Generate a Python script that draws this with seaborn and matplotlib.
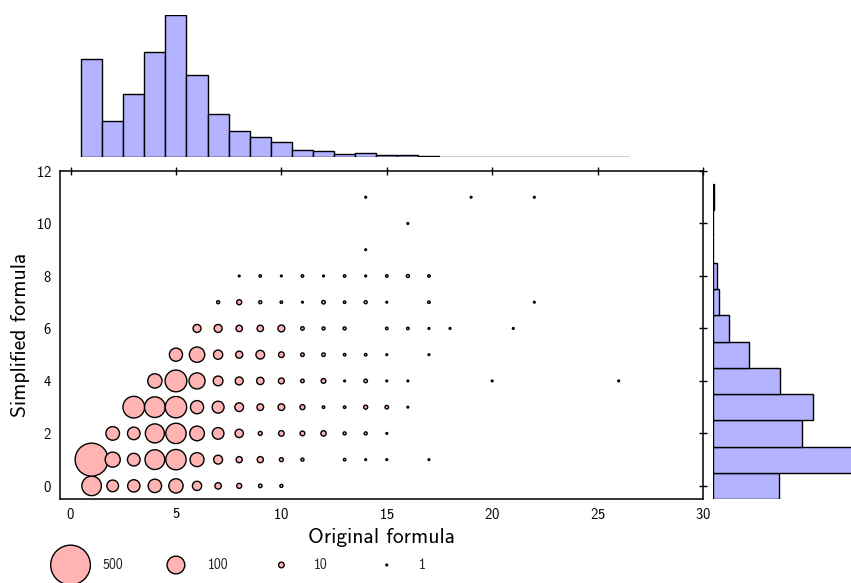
import numpy as np
import pandas as pd
import matplotlib
matplotlib.use("Agg")
import matplotlib.pyplot as plt
import seaborn as sns

# ---------------- data ----------------
# bubble chart: (original formula size, simplified formula size, count)
orig = [1, 2, 3, 4, 5, 6, 7, 8, 9, 10,
        1, 2, 3, 4, 5, 6, 7, 8, 9, 10, 11, 13, 14, 15, 17,
        2, 3, 4, 5, 6, 7, 8, 9, 10, 11, 12, 13, 14, 15,
        3, 4, 5, 6, 7, 8, 9, 10, 11, 12, 13, 14, 15, 16,
        4, 5, 6, 7, 8, 9, 10, 11, 12, 13, 14, 15, 16, 20, 26,
        5, 6, 7, 8, 9, 10, 11, 12, 13, 14, 15, 17,
        6, 7, 8, 9, 10, 11, 12, 13, 15, 16, 17, 18, 21,
        7, 8, 9, 10, 11, 12, 13, 14, 15, 17, 22,
        8, 9, 10, 11, 12, 13, 14, 15, 16, 17,
        14,
        16,
        14, 19, 22]
simp = [0] * 10 + [1] * 15 + [2] * 14 + [3] * 14 + [4] * 15 + [5] * 12 + \
       [6] * 13 + [7] * 11 + [8] * 10 + [9] * 1 + [10] * 1 + [11] * 3
count = [121, 43, 48, 57, 65, 27, 13, 8, 4, 3,
         345, 72, 51, 123, 131, 62, 25, 12, 12, 5, 3, 2, 1, 1, 1,
         59, 50, 115, 131, 68, 43, 22, 5, 10, 7, 9, 3, 3, 1,
         149, 135, 145, 55, 45, 24, 14, 14, 8, 2, 2, 5, 4, 1,
         65, 150, 82, 30, 20, 17, 11, 4, 7, 1, 4, 1, 1, 1, 1,
         55, 75, 27, 16, 24, 10, 4, 4, 2, 2, 1, 1,
         20, 20, 13, 13, 15, 4, 3, 3, 2, 2, 1, 1, 1,
         3, 8, 3, 2, 1, 4, 2, 3, 1, 2, 1,
         1, 2, 1, 2, 1, 2, 1, 2, 3, 2,
         1,
         1,
         1, 1, 1]

# marginal histograms
orig_bins = list(range(1, 27))
orig_hist = [466, 173, 298, 499, 677, 389, 206, 125, 96, 72, 35, 30, 16,
             21, 11, 8, 6, 1, 1, 1, 1, 2, 0, 0, 0, 1]
simp_bins = list(range(0, 12))
simp_hist = [385, 884, 522, 584, 393, 211, 92, 37, 22, 2, 1, 3]

legend_counts = [500, 100, 10, 1]
legend_labels = ["500", "100", "10", "1"]

x_ticks = [0, 5, 10, 15, 20, 25, 30]
y_ticks = [0, 2, 4, 6, 8, 10, 12]

bubbles = pd.DataFrame({"orig": orig, "simp": simp, "count": count})
top_df = pd.DataFrame({"orig": orig_bins, "n": orig_hist})
right_df = pd.DataFrame({"simp": simp_bins, "n": simp_hist})
leg_df = pd.DataFrame({"x": [5 * i for i in range(len(legend_counts))],
                       "y": [0] * len(legend_counts),
                       "count": legend_counts})

# ---------------- style ----------------
sns.set_theme(style="white")
plt.rcParams["font.family"] = ["cmss10", "DejaVu Sans"]
plt.rcParams["axes.unicode_minus"] = False
plt.rcParams["axes.formatter.use_mathtext"] = True

W, H = 851, 583
fig = plt.figure(figsize=(W / 100, H / 100), dpi=100)


def box(l, t, r, b):
    return [l / W, 1 - b / H, (r - l) / W, (b - t) / H]


ax = fig.add_axes(box(60, 171, 703, 499))
ax_top = fig.add_axes(box(60, 15, 703, 157))
ax_right = fig.add_axes(box(713, 171, 864, 499))
ax_leg = fig.add_axes(box(60, 547, 703, 583))

bubble_fill = "#ffb3b3"
bar_fill = "#b3b3ff"
S500 = 817.0  # marker area (pt^2) for a count of 500
size_kw = dict(sizes=(0, S500 * 2), size_norm=(0, 1000))

sns.scatterplot(data=bubbles, x="orig", y="simp", size="count", ax=ax,
                color=bubble_fill, edgecolor="black", linewidth=1.0,
                legend=False, zorder=3, **size_kw)

ax.set_xlim(-0.5, 30)
ax.set_ylim(-0.5, 12)
ax.set_xticks(x_ticks)
ax.set_yticks(y_ticks)
ax.tick_params(direction="inout", length=6, width=1, top=True, right=True,
               labelsize=10.5, colors="black", pad=3)
for sp in ax.spines.values():
    sp.set_visible(True)
    sp.set_color("black")
    sp.set_linewidth(1.1)
ax.set_xlabel("Original formula", fontsize=15.5, labelpad=4, color="black")
ax.set_ylabel("Simplified formula", fontsize=15.5, labelpad=4, color="black")

# top marginal histogram
sns.histplot(data=top_df, x="orig", weights="n",
             bins=[b - 0.5 for b in range(1, 28)],
             ax=ax_top, color=bar_fill, edgecolor="black", linewidth=1.0,
             alpha=1.0)
ax_top.set_xlim(-0.5, 30)
ax_top.margins(y=0)
ax_top.set_ylim(bottom=0)
ax_top.set_axis_off()

# right marginal histogram
sns.histplot(data=right_df, y="simp", weights="n",
             bins=[b - 0.5 for b in range(0, 13)],
             ax=ax_right, color=bar_fill, edgecolor="black", linewidth=1.0,
             alpha=1.0)
ax_right.set_ylim(-0.5, 12)
ax_right.margins(x=0)
ax_right.set_xlim(left=0)
ax_right.set_axis_off()

# size legend
sns.scatterplot(data=leg_df, x="x", y="y", size="count", ax=ax_leg,
                color=bubble_fill, edgecolor="black", linewidth=1.0,
                legend=False, clip_on=False, **size_kw)
for xv, lab in zip(leg_df["x"], legend_labels):
    ax_leg.text(xv + 1.52, 0, lab, ha="left", va="center", fontsize=10,
                color="#222222")
ax_leg.set_xlim(-0.5, 30)
ax_leg.set_ylim(-1, 1)
ax_leg.set_axis_off()

fig.savefig("out.png", dpi=100)
